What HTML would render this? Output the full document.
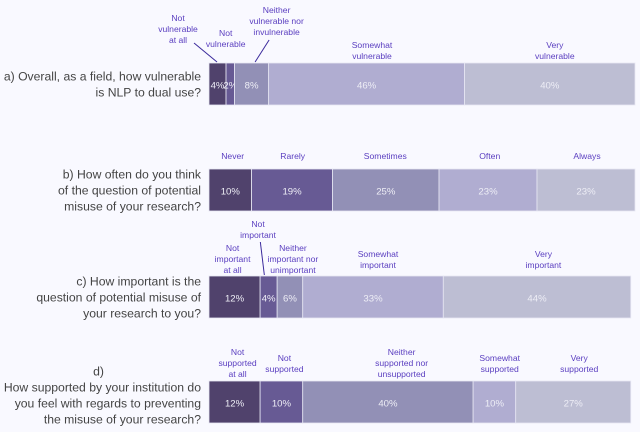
<!DOCTYPE html>
<html lang="en">
<head>
<meta charset="utf-8">
<title>NLP dual use survey</title>
<style>
  html, body { margin: 0; padding: 0; background: #f9f9ff; }
  #chart { display: block; width: 640px; height: 432px; }
  .question { font: 12.2px "Liberation Sans", sans-serif; fill: #444444; text-anchor: end; }
  .option { font: 8.6px "Liberation Sans", sans-serif; fill: #5a3ec0; text-anchor: middle; }
  .pct { font: 9.6px "Liberation Sans", sans-serif; fill: #eeeef6; text-anchor: middle; }
</style>
</head>
<body>
<svg id="chart" xmlns="http://www.w3.org/2000/svg" width="640" height="432" viewBox="0 0 640 432"></svg>
<script>
const valuesA = [4, 2, 8, 46, 40];
const valuesB = [10, 19, 25, 23, 23];
const valuesC = [12, 4, 6, 33, 44];
const valuesD = [12, 10, 40, 10, 27];

const categoriesA = ['Not\nvulnerable\nat all', 'Not\nvulnerable', 'Neither\nvulnerable nor\ninvulnerable', 'Somewhat\nvulnerable', 'Very\nvulnerable'];
const categoriesB = ['Never', 'Rarely', 'Sometimes', 'Often', 'Always'];
const categoriesC = ['Not\nimportant\nat all', 'Not\nimportant', 'Neither\nimportant nor\nunimportant', 'Somewhat\nimportant', 'Very\nimportant'];
const categoriesD = ['Not\nsupported\nat all', 'Not\nsupported', 'Neither\nsupported nor\nunsupported', 'Somewhat\nsupported', 'Very\nsupported'];

const questionA = ['a) Overall, as a field, how vulnerable', 'is NLP to dual use?'];
const questionB = ['b) How often do you think', 'of the question of potential', 'misuse of your research?'];
const questionC = ['c) How important is the', 'question of potential misuse of', 'your research to you?'];
const questionD = ['How supported by your institution do', 'you feel with regards to preventing', 'the misuse of your research?'];

const segmentColors = ['#50426c', '#675a94', '#9290b6', '#b0add1', '#bdbed3'];

const svg = document.getElementById('chart');
const NS = 'http://www.w3.org/2000/svg';
const originX = 209;
const pxPerPercent = 4.26;
const barHeight = 42;
const lineGap = 11;

function xScale(v) { return originX + v * pxPerPercent; }

function addText(cls, x, y, str) {
  const t = document.createElementNS(NS, 'text');
  t.setAttribute('class', cls);
  t.setAttribute('x', x);
  t.setAttribute('y', y);
  t.textContent = str;
  svg.appendChild(t);
  return t;
}

function drawPanel(key, values, categories, question, barTop, questionMid, labelBottoms, labelNudges, leaders) {
  let running = 0;
  values.forEach(function (v, i) {
    const x0 = xScale(running);
    const x1 = xScale(running + v);
    const mid = (x0 + x1) / 2;
    running += v;

    const r = document.createElementNS(NS, 'rect');
    r.setAttribute('x', x0);
    r.setAttribute('y', barTop);
    r.setAttribute('width', x1 - x0);
    r.setAttribute('height', barHeight);
    r.setAttribute('fill', segmentColors[i]);
    r.setAttribute('stroke', '#e6e6f3');
    r.setAttribute('stroke-width', '0.8');
    
    
    svg.appendChild(r);

    const p = addText('pct', mid, barTop + 25.5, v + '%');
    
    

    const lines = categories[i].split('\n');
    lines.forEach(function (line, j) {
      const ly = labelBottoms[i] + 3 - (lines.length - 1 - j) * lineGap;
      const o = addText('option', mid + labelNudges[i], ly, line);
      
      
    });

    if (leaders[i]) {
      const l = document.createElementNS(NS, 'line');
      l.setAttribute('x1', mid + leaders[i][0]);
      l.setAttribute('y1', barTop - leaders[i][1]);
      l.setAttribute('x2', mid + leaders[i][2]);
      l.setAttribute('y2', barTop - 1);
      l.setAttribute('stroke', '#3b2a9c');
      l.setAttribute('stroke-width', '1');
      
      
      svg.appendChild(l);
    }
  });

  question.forEach(function (line, j) {
    const q = addText('question', 201, questionMid + j * 16 + 4.5, line);
    
    
  });
}

drawPanel('a', valuesA, categoriesA, questionA, 63, 76, [40, 44, 32, 56, 56], [-39.5, -4.6, 25, 5.4, 5], [[-23.5, 20, -0.5], null, [17.5, 23, 3.5], null, null]);
drawPanel('b', valuesB, categoriesB, questionB, 169, 174, [156, 156, 156, 156, 156], [2.4, 0.6, -0.5, 1.7, 1], [null, null, null, null, null]);
drawPanel('c', valuesC, categoriesC, questionC, 276, 281, [270, 235, 270, 265, 265], [-2, -10.6, 3, 5, 6.4], [null, [-8.3, 34, -4.3], null, null, null]);
drawPanel('d', valuesD, categoriesD, questionD, 381, 387, [374, 369, 374, 369, 369], [3, 3, 13.7, 5.3, 6], [null, null, null, null, null]);

const dLabel = addText('question', 104, 375.5, 'd)');


</script>
</body>
</html>
